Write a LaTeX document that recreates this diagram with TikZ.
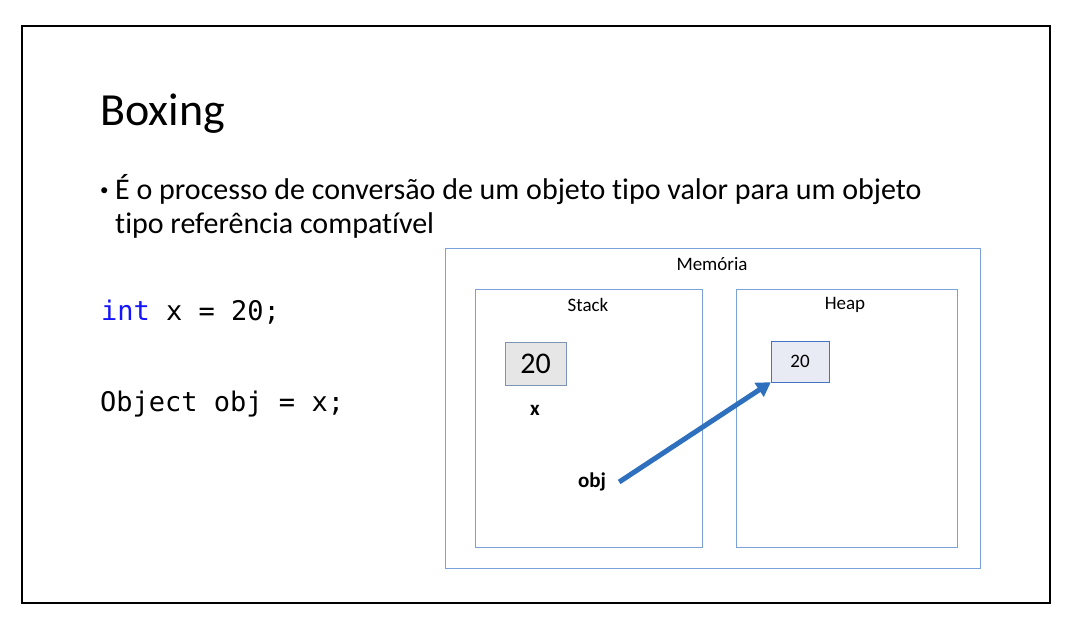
\documentclass[tikz,border=0pt]{standalone}
\usepackage{fontspec}
\setmainfont{Carlito}[Ligatures=CommonOff]
\newfontfamily\codefont{DejaVu Sans Mono}
\usetikzlibrary{positioning, arrows.meta}
\definecolor{memline}{RGB}{122,162,216}
\definecolor{valline}{RGB}{68,114,196}
\definecolor{valfill}{RGB}{232,234,244}
\definecolor{stackfill}{RGB}{230,230,230}
\definecolor{refarrow}{RGB}{46,112,190}
\definecolor{kwblue}{RGB}{20,20,255}
\begin{document}
\begin{tikzpicture}[x=1pt, y=-1pt,
    area/.style = {draw=memline, line width=1pt, inner sep=0pt},
    lbl/.style = {font=\fontsize{19}{22}\selectfont},
    varname/.style = {font=\fontsize{21}{24}\selectfont\bfseries},
    bodytext/.style = {anchor=base west, inner sep=0pt, font=\fontsize{30}{36}\selectfont},
    codeline/.style = {anchor=base west, inner sep=0pt, font=\codefont\fontsize{27}{32}\selectfont}]
    \useasboundingbox (0,0) rectangle (1066,630);
    \draw[line width=2pt] (22,26) rectangle (1050,603);

    % slide text
    \node[anchor=base west, inner sep=0pt, font=\fontsize{46}{54}\selectfont] (title) at (100,125) {Boxing};
    \node[anchor=base west, inner sep=0pt, font=\fontsize{17}{20}\selectfont] (bullet) at (100,195) {\textbullet};
    \node[bodytext] (line1) at (115,199) {É o processo de conversão de um objeto tipo valor para um objeto};
    \node[bodytext] (line2) at (115,233) {tipo referência compatível};

    % code
    \node[codeline] (code1) at (101,320) {\textcolor{kwblue}{int} x = 20;};
    \node[codeline] (code2) at (100,411) {Object obj = x;};

    % memory
    \node[area, minimum width=535pt, minimum height=320pt] (mem) at (712.5,408) {};
    \node[lbl] (memlbl) at (712,264) {Memória};
    \node[area, minimum width=227pt, minimum height=258pt] (stack) at (588.5,418) {};
    \node[lbl] (stacklbl) at (588,305) {Stack};
    \node[area, minimum width=221pt, minimum height=258pt] (heap) at (846.5,418) {};
    \node[lbl] (heaplbl) at (845,305) {Heap};

    \node[draw=memline!60!gray, fill=stackfill, minimum width=61pt, minimum height=43pt, font=\fontsize{30}{34}\selectfont] (xval) at (535.5,363.5) {20};
    \node[varname] (xname) at (535,410) {x};
    \node[draw=valline, fill=valfill, minimum width=58pt, minimum height=41pt, font=\fontsize{19}{22}\selectfont] (hval) at (800,361.5) {20};
    \node[varname, inner sep=2pt] (objname) at (592,482) {obj};

    \draw[refarrow, line width=5pt, -{Triangle[length=14pt, width=16pt]}] ([xshift=11pt]objname.east) -- (hval.south west);
\end{tikzpicture}
\end{document}
